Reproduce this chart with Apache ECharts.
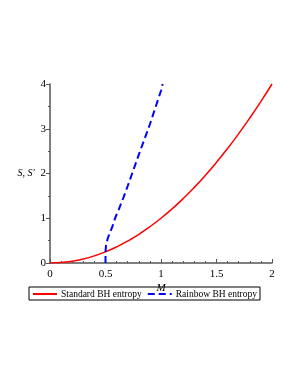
<!DOCTYPE html>
<html><head><meta charset="utf-8">
<script src="https://cdn.jsdelivr.net/npm/echarts@6/dist/echarts.min.js"></script>
<style>html,body{margin:0;padding:0;background:#fff}#c{width:298px;height:385px}</style>
</head><body><div id="c"></div>
<script>
const seriesNames = ['Standard BH entropy', 'Rainbow BH entropy'];
const xTicks = [0, 0.5, 1, 1.5, 2];
const yTicks = [0, 1, 2, 3, 4];
const standardM = [0,0.1,0.2,0.3,0.4,0.5,0.6,0.7,0.8,0.9,1.0,1.1,1.2,1.3,1.4,1.5,1.6,1.7,1.8,1.9,2.0];
const standardS = [0,0.01,0.04,0.09,0.16,0.25,0.36,0.49,0.64,0.81,1.0,1.21,1.44,1.69,1.96,2.25,2.56,2.89,3.24,3.61,4.0];
const rainbowM = [0.5,0.5,0.505,0.52,0.54,0.56,0.586,0.62,0.66,0.7,0.8,0.9,1.0,1.015];
const rainbowS = [0,0.25,0.4,0.55,0.68,0.8,1.0,1.2,1.45,1.72,2.42,3.1,3.85,4.0];

const font = 'Liberation Serif';
const axisColor = '#555';
const chart = echarts.init(document.getElementById('c'));
chart.setOption({
  animation: false,
  textStyle: {fontFamily: font},
  grid: {left: 50, right: 26, top: 84, bottom: 122},
  legend: {
    left: 29, top: 287,
    data: seriesNames,
    borderColor: '#000', borderWidth: 1, borderRadius: 0,
    padding: [2, 3, 1, 3],
    itemWidth: 24, itemHeight: 10, itemGap: 5,
    itemStyle: {opacity: 0},
    textStyle: {fontFamily: font, fontSize: 9.5, color: '#000', padding: [0,0,0,-1]}
  },
  xAxis: {
    type: 'value', min: xTicks[0], max: xTicks[xTicks.length-1], interval: 0.5,
    name: 'M', nameLocation: 'middle', nameGap: 20,
    nameTextStyle: {fontFamily: font, fontStyle: 'italic', fontSize: 11, color: '#000'},
    axisLine: {lineStyle: {color: axisColor, width: 1.5}},
    axisTick: {inside: true, length: 4, lineStyle: {color: axisColor}},
    minorTick: {show: true, splitNumber: 5, length: 2, lineStyle: {color: axisColor}},
    splitLine: {show: false},
    axisLabel: {fontFamily: font, fontSize: 11, color: '#000', margin: 6,
      formatter: v => String(v)}
  },
  yAxis: {
    type: 'value', min: yTicks[0], max: yTicks[yTicks.length-1], interval: 1,
    name: "S, S'", nameLocation: 'middle', nameGap: 13, nameRotate: 0,
    nameTextStyle: {fontFamily: font, fontStyle: 'italic', fontSize: 10, color: '#000', align: 'right'},
    axisLine: {show: true, lineStyle: {color: axisColor, width: 1.5}},
    axisTick: {show: true, inside: false, length: 4, lineStyle: {color: axisColor}},
    minorTick: {show: true, splitNumber: 2, length: 2, lineStyle: {color: axisColor}},
    splitLine: {show: false},
    axisLabel: {fontFamily: font, fontSize: 11, color: '#000', margin: 4}
  },
  series: [
    {
      name: seriesNames[0], type: 'line', symbol: 'none', smooth: true,
      data: standardM.map((m, i) => [m, standardS[i]]),
      lineStyle: {color: '#ff0000', width: 1.5}, itemStyle: {color: '#ff0000'}
    },
    {
      name: seriesNames[1], type: 'line', symbol: 'none', smooth: false,
      data: rainbowM.map((m, i) => [m, rainbowS[i]]),
      lineStyle: {color: '#0000ff', width: 2, type: [7, 4]}, itemStyle: {color: '#0000ff'}
    }
  ]
});
</script></body></html>
